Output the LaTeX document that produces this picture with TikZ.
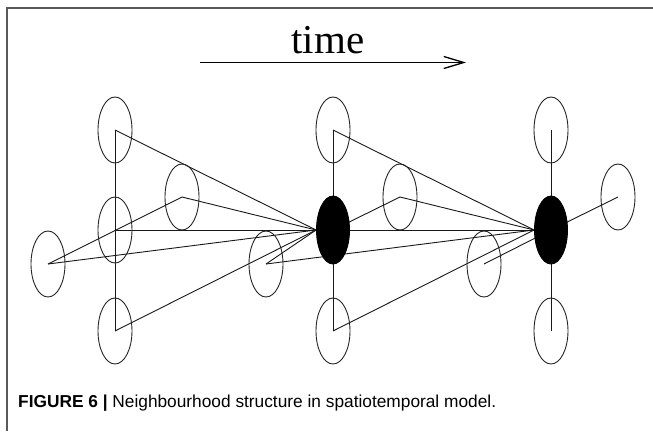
\documentclass[tikz,border=0pt]{standalone}
\usepackage{fontspec}
\setmainfont{Liberation Serif}
\newfontfamily\capfont{Liberation Sans}
\usetikzlibrary{shapes.geometric,arrows.meta}
\pgfdeclarelayer{bg}
\pgfsetlayers{bg,main}
\begin{document}
\begin{tikzpicture}[x=1pt,y=-1pt,
  hollow/.style={ellipse,draw=black!85,line width=0.9pt,minimum width=34pt,minimum height=66pt,inner sep=0pt},
  solid/.style={ellipse,fill=black,draw=black,line width=0.9pt,minimum width=33pt,minimum height=68pt,inner sep=0pt},
  edge/.style={draw=black!90,line width=0.9pt},
  frame/.style={draw=black!65,line width=1.5pt}]
\useasboundingbox (0,0) rectangle (653,431);
% frame
\coordinate (fr1) at (7,431);
\coordinate (fr2) at (7,8);
\coordinate (fr3) at (653,8);
\draw[frame] (fr1) -- (fr2) -- (fr3);
% time arrow
\node[font=\fontsize{41}{41}\selectfont,anchor=base] (time) at (328,53) {time};
\coordinate (ta) at (200,62.5);
\coordinate (tb) at (466,62.5);
\draw[line width=1.8pt,-{Straight Barb[length=20pt,width=12pt,line width=1.3pt]}] (ta) -- (tb);
% column 1
\node[hollow] (t1) at (115,130) {};
\node[hollow] (c1) at (115,230) {};
\node[hollow] (b1) at (115,331) {};
\node[hollow] (f1) at (48,264) {};
\node[hollow] (k1) at (182,197) {};
% column 2
\node[hollow] (t2) at (333,130) {};
\node[solid] (c2) at (333,230) {};
\node[hollow] (b2) at (333,331) {};
\node[hollow] (f2) at (266,264) {};
\node[hollow] (k2) at (400,197) {};
% column 3
\node[hollow] (t3) at (551,130) {};
\node[solid] (c3) at (551,230) {};
\node[hollow] (b3) at (551,331) {};
\node[hollow] (f3) at (484,264) {};
\node[hollow] (k3) at (618,197) {};
\begin{pgfonlayer}{bg}
% column 1 spatial
\path[edge] (t1.center) -- (b1.center);
\path[edge] (f1.center) -- (k1.center);
% column 1 -> column 2
\path[edge] (t1.center) -- (c2.west);
\path[edge] (k1.center) -- (c2.west);
\path[edge] (c1.center) -- (c2.west);
\path[edge] (f1.center) -- (c2.west);
\path[edge] (b1.center) -- (c2.west);
% column 2 spatial
\path[edge] (t2.center) -- (b2.center);
\path[edge] (k2.center) -- (c2.center);
\path[edge] (f2.center) -- (c2.west);
% column 2 -> column 3
\path[edge] (t2.center) -- (c3.west);
\path[edge] (k2.center) -- (c3.west);
\path[edge] (c2.center) -- (c3.west);
\path[edge] (f2.center) -- (c3.west);
\path[edge] (b2.center) -- (c3.west);
% column 3 spatial
\path[edge] (t3.center) -- (b3.center);
\path[edge] (k3.center) -- (c3.center);
\path[edge] (f3.center) -- (c3.center);
\end{pgfonlayer}
% caption
\node[anchor=base west,inner sep=0pt,font=\capfont\fontsize{17.3}{19}\selectfont] (cap) at (18,407)
  {\textbf{FIGURE 6 |} Neighbourhood structure in spatiotemporal model.};
\end{tikzpicture}
\end{document}
